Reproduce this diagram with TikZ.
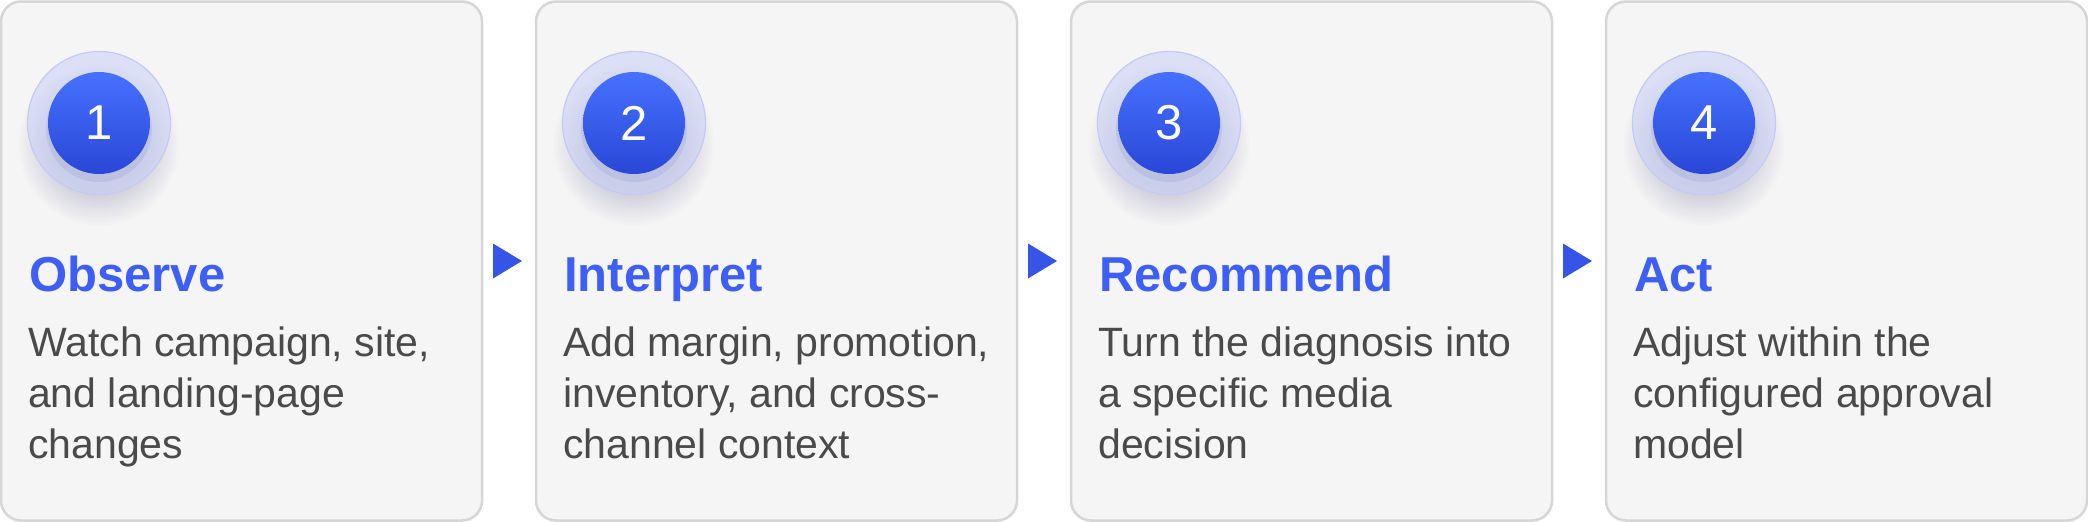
\documentclass[tikz,border=0pt]{standalone}
\usepackage{fontspec}
\setmainfont{Liberation Sans}
\usetikzlibrary{calc}
\definecolor{boxfill}{HTML}{F5F5F5}
\definecolor{boxline}{HTML}{D6D6D6}
\definecolor{titleblue}{HTML}{3D5EF7}
\definecolor{bodygray}{HTML}{4A4A4A}
\definecolor{halofill}{HTML}{C8D0F8}
\definecolor{haloline}{HTML}{C2CAF5}
\definecolor{balltop}{HTML}{4671FF}
\definecolor{ballbot}{HTML}{2A47D6}
\definecolor{arrowblue}{HTML}{3654E6}
\definecolor{shadowcol}{HTML}{4A5498}
\newcommand{\stepcard}[6]{%
  \pgfmathsetmacro{\xo}{535*#1}
  \node[stepbox] (b#1) at (\xo+241.5,261) {};
  \coordinate (c#1) at (\xo+99,123);
  \foreach \k in {1,...,14}{\fill[shadowcol, opacity=0.016] ($(c#1)+(0,22)$) circle ({44+2.6*\k});}
  \fill[halofill, opacity=0.55] (c#1) circle (71.5);
  \draw[haloline, line width=1.2pt] (c#1) circle (71.5);
  \fill[shadowcol, opacity=0.10] ($(c#1)+(0,6)$) circle (53);
  \shade[top color=balltop, bottom color=ballbot] (c#1) circle (51);
  \node[numtext] (n#1) at (c#1) {#2};
  \node[titletext] (t#1) at (\xo+29,291) {#3};
  \node[bodytext] (d#1) at (\xo+28,458) {#4\\#5\\#6};
}
\begin{document}
\begin{tikzpicture}[x=1pt,y=-1pt,
  stepbox/.style={draw=boxline, line width=2.5pt, fill=boxfill, rounded corners=20pt,
    minimum width=481pt, minimum height=519pt, inner sep=0pt},
  numtext/.style={text=white, inner sep=0pt, font=\fontsize{49}{49}\selectfont},
  titletext/.style={anchor=base west, inner sep=0pt, text=titleblue,
    font=\fontsize{49}{49}\selectfont\bfseries},
  bodytext/.style={anchor=base west, inner sep=0pt, text=bodygray, align=left,
    font=\fontsize{41}{51}\selectfont},
  marker/.style={fill=arrowblue}]
\useasboundingbox (0,0) rectangle (2088,522);
\stepcard{0}{1}{Observe}{Watch campaign, site,}{and landing-page}{changes}
\stepcard{1}{2}{Interpret}{Add margin, promotion,}{inventory, and cross-}{channel context}
\stepcard{2}{3}{Recommend}{Turn the diagnosis into}{a specific media}{decision}
\stepcard{3}{4}{Act}{Adjust within the}{configured approval}{model}
\foreach \a/\b in {0/1,1/2,2/3}{
  \path (b\a.east) -- (b\b.west) coordinate[pos=0.5] (m\a);
  \fill[marker] ($(m\a)+(-16,-17.5)$) -- ($(m\a)+(13,0)$) -- ($(m\a)+(-16,17.5)$) -- cycle;
}
\end{tikzpicture}
\end{document}
